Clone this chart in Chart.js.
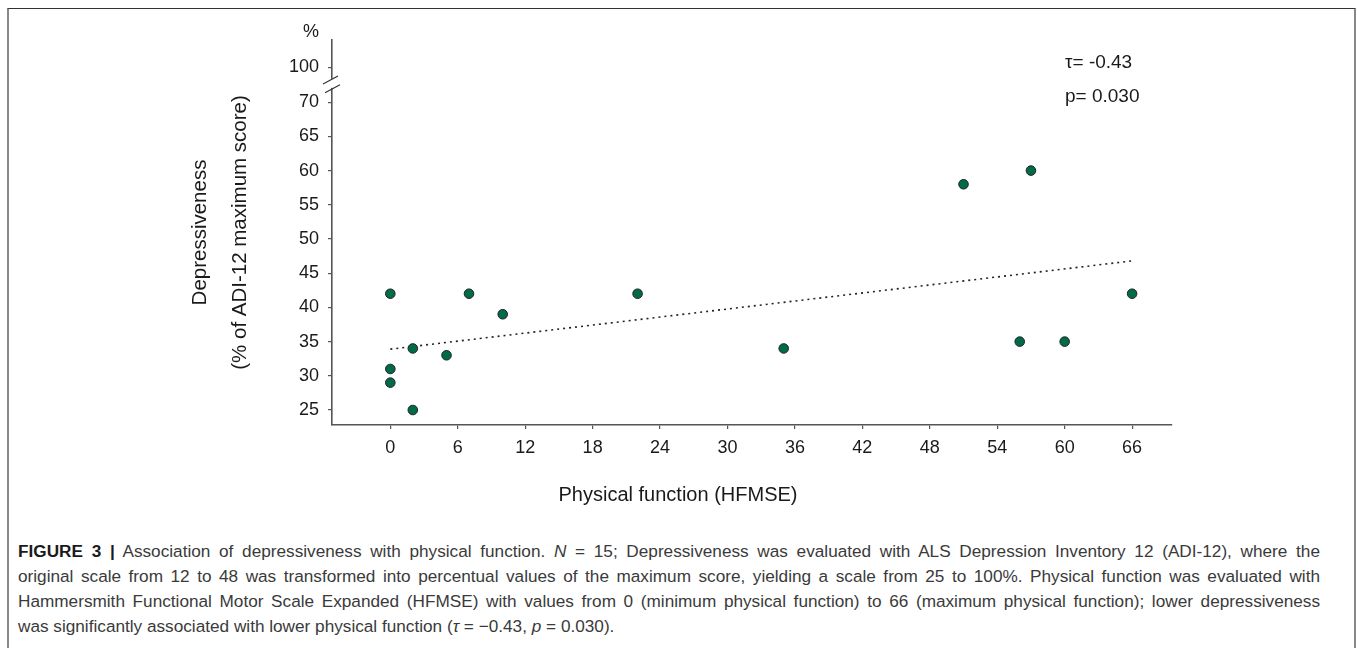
<!DOCTYPE html>
<html>
<head>
<meta charset="utf-8">
<script src="https://cdn.jsdelivr.net/npm/chart.js@4/dist/chart.umd.min.js"></script>
<style>
  body { margin: 0; background: #fff; font-family: "Liberation Sans", Arial, sans-serif; overflow: hidden; }
  #frame { position: absolute; left: 7px; top: 8px; width: 1345px; height: 700px;
           border-top: 1px solid #333; border-left: 2px solid #888; border-right: 2px solid #888; }
  #chart { position: absolute; left: 0; top: 0; }
  #caption { position: absolute; left: 18px; top: 539px; width: 1302px; font-size: 17.2px;
             line-height: 25px; color: #3a3a3a; }
  #caption div { text-align: justify; text-align-last: justify; white-space: nowrap; }
  #caption div.last { text-align-last: left; }
  #caption b { color: #1a1a1a; }
</style>
</head>
<body>
<div id="frame"></div>
<canvas id="chart" width="1357" height="520"></canvas>
<div id="caption">
  <div><b>FIGURE 3 |</b> Association of depressiveness with physical function. <i>N</i> = 15; Depressiveness was evaluated with ALS Depression Inventory 12 (ADI-12), where the</div>
  <div>original scale from 12 to 48 was transformed into percentual values of the maximum score, yielding a scale from 25 to 100%. Physical function was evaluated with</div>
  <div>Hammersmith Functional Motor Scale Expanded (HFMSE) with values from 0 (minimum physical function) to 66 (maximum physical function); lower depressiveness</div>
  <div class="last">was significantly associated with lower physical function (<i>τ</i> = −0.43, <i>p</i> = 0.030).</div>
</div>
<script>
// patients: HFMSE score and ADI-12 (% of max)
const hfmse = [0, 0, 0, 2, 2, 5, 7, 10, 22, 35, 51, 57, 56, 60, 66];
const adiPercent = [42, 31, 29, 34, 25, 33, 42, 39, 42, 34, 58, 60, 35, 35, 42];

// dotted trend line ends
const trendX = [0, 66];
const trendY = [33.9, 46.8];

const xTicks = [0, 6, 12, 18, 24, 30, 36, 42, 48, 54, 60, 66];
const yTicks = [25, 30, 35, 40, 45, 50, 55, 60, 65, 70];
// 100 sits above the axis break
const breakTickPos = 75.1;
const breakTickLabel = '100';
const breakFrom = 72.1, breakTo = 73.4;

const axisColor = '#555';
const textColor = '#1a1a1a';
const font = { family: '"Liberation Sans", Arial, sans-serif', size: 18 };

const extrasPlugin = {
    id: 'extras',
    afterDraw(chart) {
        const ctx = chart.ctx;
        const ys = chart.scales.y;
        const ax = chart.chartArea.left;
        const yA = ys.getPixelForValue(breakTo), yB = ys.getPixelForValue(breakFrom);

        // axis break
        ctx.save();
        ctx.fillStyle = '#fff';
        ctx.fillRect(ax - 3, yA, 6, yB - yA);
        ctx.strokeStyle = '#333';
        ctx.lineWidth = 1.2;
        ctx.beginPath();
        ctx.moveTo(ax - 9, yA + 5); ctx.lineTo(ax + 6, yA - 3);
        ctx.moveTo(ax - 7, yB + 5); ctx.lineTo(ax + 8, yB - 3);
        ctx.stroke();

        ctx.fillStyle = textColor;
        ctx.font = '18px "Liberation Sans", Arial, sans-serif';
        ctx.textBaseline = 'middle';
        ctx.textAlign = 'center';
        ctx.fillText('%', 311, 32);
        ctx.font = '20px "Liberation Sans", Arial, sans-serif';
        ctx.fillText('Physical function (HFMSE)', 678, 495);
        ctx.textAlign = 'left';
        ctx.font = '19px "Liberation Sans", Arial, sans-serif';
        ctx.fillText('τ= -0.43', 1065, 63);
        ctx.fillText('p= 0.030', 1065, 97);
        ctx.restore();
    }
};

new Chart(document.getElementById('chart').getContext('2d'), {
    type: 'scatter',
    data: {
        datasets: [{
            label: 'Patients',
            data: hfmse.map((x, i) => ({ x: x, y: adiPercent[i] })),
            backgroundColor: '#006b4a',
            borderColor: '#222',
            borderWidth: 1,
            pointRadius: 4.8,
            order: 1
        }, {
            type: 'line',
            label: 'Trend',
            data: trendX.map((x, i) => ({ x: x, y: trendY[i] })),
            borderColor: '#222',
            borderWidth: 1.6,
            borderDash: [2, 4],
            pointRadius: 0,
            fill: false,
            order: 2
        }]
    },
    options: {
        responsive: false,
        animation: false,
        layout: { padding: { left: 0, right: 185, top: 40, bottom: 40 } },
        plugins: { legend: { display: false }, tooltip: { enabled: false } },
        scales: {
            x: {
                type: 'linear',
                min: -5.19,
                max: 69.55,
                afterBuildTicks: s => { s.ticks = xTicks.map(v => ({ value: v })); },
                afterFit: s => { s.height = 55; },
                border: { display: true, color: axisColor, width: 1.6 },
                grid: { drawOnChartArea: false, drawTicks: true, tickLength: 4, color: axisColor, lineWidth: 1.2 },
                ticks: { color: textColor, font: font, padding: 8, maxRotation: 0 }
            },
            y: {
                type: 'linear',
                min: 22.81,
                max: 79.09,
                afterBuildTicks: s => {
                    s.ticks = yTicks.map(v => ({ value: v })).concat([{ value: breakTickPos }]);
                },
                afterFit: s => { s.width = 332; },
                border: { display: true, color: axisColor, width: 1.6 },
                grid: { drawOnChartArea: false, drawTicks: true, tickLength: 4, color: axisColor, lineWidth: 1.2 },
                ticks: {
                    color: textColor, font: font, padding: 9,
                    callback: v => v === breakTickPos ? breakTickLabel : v
                },
                title: {
                    display: true,
                    text: ['Depressiveness', '(% of ADI-12 maximum score)'],
                    color: textColor,
                    font: { family: font.family, size: 20.5, lineHeight: '40px' },
                    padding: { top: 180, bottom: 0 }
                }
            }
        }
    },
    plugins: [extrasPlugin]
});
</script>
</body>
</html>
